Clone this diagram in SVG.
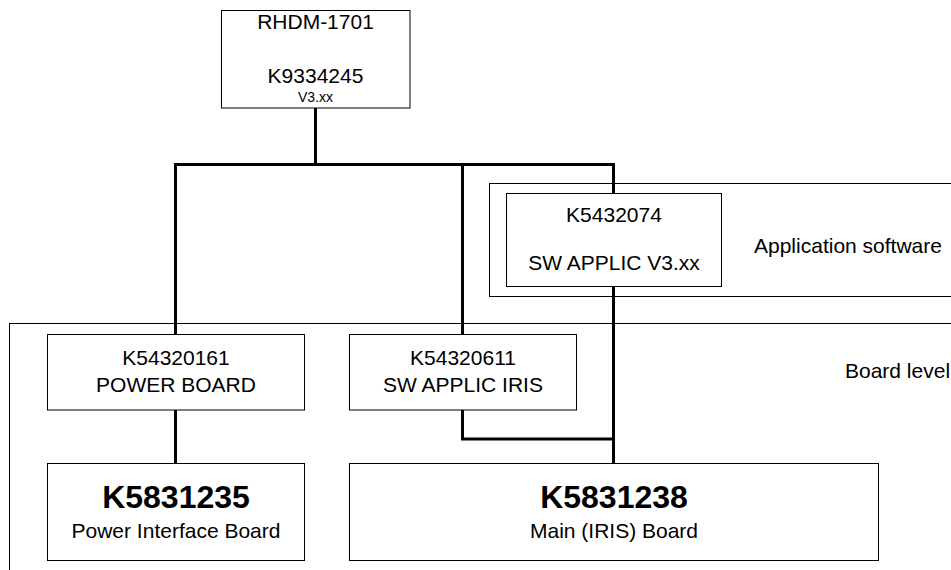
<svg xmlns="http://www.w3.org/2000/svg" width="951" height="570" viewBox="0 0 951 570">
<style>
  .box { fill: #fff; stroke: #000; stroke-width: 1; }
  .frame { fill: none; stroke: #000; stroke-width: 1; }
  .conn { fill: none; stroke: #000; stroke-width: 3; stroke-linejoin: miter; stroke-linecap: square; }
  text { font-family: "Liberation Sans", Arial, sans-serif; fill: #000; }
  .t { font-size: 21px; text-anchor: middle; }
  .s { font-size: 14px; text-anchor: middle; }
  .b { font-size: 32px; font-weight: bold; text-anchor: middle; }
  .lbl { font-size: 21px; text-anchor: start; }
</style>
<rect width="951" height="570" fill="#fff"/>
<g id="frame-application-software">
  <rect class="frame" x="489.5" y="183.5" width="520" height="113"/>
  <text class="lbl" x="754" y="253">Application software</text>
</g>
<g id="frame-board-level">
  <rect class="frame" x="9.5" y="323.5" width="1000" height="300"/>
  <text class="lbl" x="845" y="378">Board level</text>
</g>
<g id="connectors">
  <path class="conn" d="M315.5 108 V164.5"/>
  <path class="conn" d="M175.5 334 V164.5 H613.5 V193"/>
  <path class="conn" d="M462.5 164.5 V334"/>
  <path class="conn" d="M613.5 287 V463"/>
  <path class="conn" d="M175.5 410 V463"/>
  <path class="conn" d="M462.5 410 V439 H613.5"/>
</g>
<g id="node-rhdm">
  <rect class="box" x="221.5" y="10.5" width="188.5" height="97.5"/>
  <text class="t" x="315.5" y="29">RHDM-1701</text>
  <text class="t" x="315.5" y="83">K9334245</text>
  <text class="s" x="315.5" y="101.5">V3.xx</text>
</g>
<g id="node-k5432074">
  <rect class="box" x="506.5" y="193.5" width="215" height="93"/>
  <text class="t" x="614" y="222">K5432074</text>
  <text class="t" x="614" y="270">SW APPLIC V3.xx</text>
</g>
<g id="node-k54320161">
  <rect class="box" x="47.5" y="334.5" width="257" height="75.5"/>
  <text class="t" x="176" y="365">K54320161</text>
  <text class="t" x="176" y="392">POWER BOARD</text>
</g>
<g id="node-k54320611">
  <rect class="box" x="349.5" y="334.5" width="227" height="75.5"/>
  <text class="t" x="463" y="365">K54320611</text>
  <text class="t" x="463" y="392">SW APPLIC IRIS</text>
</g>
<g id="node-k5831235">
  <rect class="box" x="47.5" y="463.5" width="257" height="97"/>
  <text class="b" x="176" y="508">K5831235</text>
  <text class="t" x="176" y="537.5">Power Interface Board</text>
</g>
<g id="node-k5831238">
  <rect class="box" x="349.5" y="463.5" width="529" height="97"/>
  <text class="b" x="614" y="508">K5831238</text>
  <text class="t" x="614" y="537.5">Main (IRIS) Board</text>
</g>
</svg>
